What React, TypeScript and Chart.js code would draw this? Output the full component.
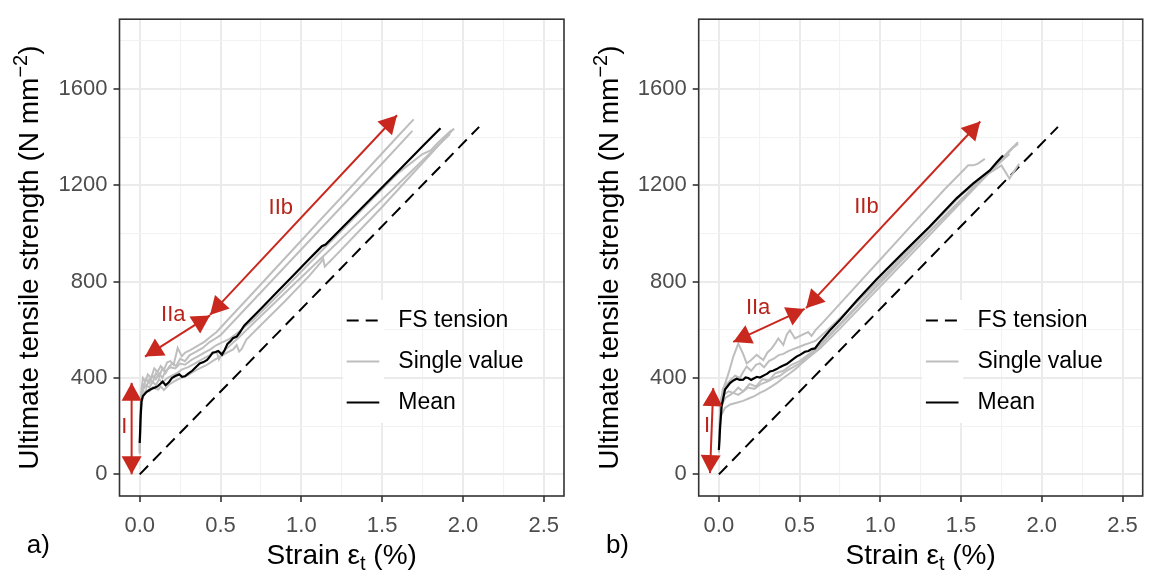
import React, { useEffect, useRef } from 'react';
import { Chart, registerables } from 'chart.js';
Chart.register(...registerables);

type Pt = [number, number];

// ---------- axes ----------
const X_MIN = -0.125;
const X_MAX = 2.625;
const Y_MIN = -90;
const Y_MAX = 1890;
const xMajorTicks = [0, 0.5, 1, 1.5, 2, 2.5];
const xMinorTicks = [0.25, 0.75, 1.25, 1.75, 2.25];
const yMajorTicks = [0, 400, 800, 1200, 1600];
const yMinorTicks = [200, 600, 1000, 1400, 1800];

const xTitleMain = 'Strain ε';
const xTitleSub = 't';
const xTitleEnd = ' (%)';
const yTitleMain = 'Ultimate tensile strength (N mm';
const yTitleSup = '−2';
const yTitleEnd = ')';

const legendLabels = ['FS tension', 'Single value', 'Mean'];
const arrowLabelText = ['I', 'IIa', 'IIb'];

// ---------- shared reference line ----------
const fsTension: Pt[] = [[0, 0], [2.1, 1443]];

// ---------- panel a) ----------
const aMean: Pt[] = [[0,130],[0.005,230],[0.011,303],[0.02,325],[0.039,340],[0.06,350],[0.085,358],[0.11,365],[0.142,385],[0.16,370],[0.18,382],[0.199,400],[0.22,408],[0.245,415],[0.262,405],[0.28,407],[0.3,418],[0.325,430],[0.35,447],[0.371,460],[0.395,466],[0.417,475],[0.435,490],[0.451,505],[0.47,508],[0.486,512],[0.509,497],[0.525,515],[0.543,542],[0.56,552],[0.577,565],[0.6,572],[0.62,590],[0.646,617],[0.75,688],[0.85,757],[0.95,826],[1.05,895],[1.1,929],[1.127,947],[1.15,954],[1.3,1056],[1.45,1158],[1.6,1260],[1.75,1362],[1.861,1437]];
const aSingle1: Pt[] = [[0,110],[0.005,260],[0.01,345],[0.02,400],[0.035,385],[0.05,415],[0.07,400],[0.09,440],[0.11,425],[0.13,450],[0.15,435],[0.17,465],[0.19,470],[0.21,455],[0.235,525],[0.26,490],[0.28,505],[0.31,515],[0.35,530],[0.4,550],[0.44,572],[0.476,591],[0.55,645],[0.7,753],[0.85,862],[1.0,971],[1.15,1080],[1.3,1188],[1.45,1297],[1.6,1406],[1.695,1474]];
const aSingle2: Pt[] = [[0,100],[0.005,240],[0.01,320],[0.02,375],[0.04,360],[0.06,395],[0.08,380],[0.1,420],[0.12,405],[0.14,440],[0.16,420],[0.18,445],[0.2,460],[0.225,450],[0.25,480],[0.28,470],[0.31,495],[0.35,510],[0.39,525],[0.43,548],[0.46,560],[0.5,578],[0.6,649],[0.75,756],[0.9,863],[1.05,970],[1.2,1077],[1.35,1184],[1.5,1291],[1.687,1426]];
const aSingle3: Pt[] = [[0,95],[0.005,220],[0.01,300],[0.02,350],[0.04,372],[0.06,360],[0.08,385],[0.1,370],[0.12,395],[0.14,380],[0.17,400],[0.2,410],[0.23,420],[0.26,435],[0.3,445],[0.34,460],[0.38,475],[0.42,490],[0.45,500],[0.476,510],[0.49,478],[0.51,505],[0.55,530],[0.58,548],[0.6,560],[0.7,625],[0.85,722],[1.0,818],[1.15,915],[1.3,1012],[1.45,1109],[1.6,1206],[1.75,1303],[1.92,1413]];
const aSingle4: Pt[] = [[0,85],[0.005,200],[0.01,280],[0.02,330],[0.04,350],[0.06,345],[0.08,362],[0.1,355],[0.115,352],[0.13,365],[0.15,350],[0.18,372],[0.21,385],[0.24,395],[0.27,405],[0.3,412],[0.33,425],[0.37,440],[0.41,452],[0.45,470],[0.476,480],[0.5,490],[0.54,505],[0.58,520],[0.6,537],[0.615,510],[0.63,520],[0.66,560],[0.75,620],[0.9,720],[1.05,825],[1.12,880],[1.135,895],[1.145,862],[1.17,880],[1.2,900],[1.35,1005],[1.5,1110],[1.65,1220],[1.8,1330],[1.9,1405],[1.945,1436]];
const aSingle5: Pt[] = [[0,92],[0.005,230],[0.01,310],[0.02,360],[0.04,395],[0.06,380],[0.08,410],[0.1,395],[0.12,420],[0.14,400],[0.16,430],[0.19,445],[0.22,440],[0.25,460],[0.28,455],[0.32,475],[0.36,490],[0.4,505],[0.44,520],[0.47,535],[0.5,545],[0.55,560],[0.6,585],[0.7,640],[0.85,740],[1.0,842],[1.15,945],[1.3,1047],[1.45,1150],[1.6,1252],[1.75,1330],[1.8,1345],[1.85,1380],[1.93,1430]];
const aArrowI: Pt[] = [[-0.05, 0], [-0.05, 380]];
const aArrowIIa: Pt[] = [[0.033, 489], [0.435, 660]];
const aArrowIIb: Pt[] = [[0.435, 662], [1.592, 1491]];
const aLabelPos: Pt[] = [[-0.095, 198], [0.208, 660], [0.873, 1108]];

// ---------- panel b) ----------
const bMean: Pt[] = [[0,101],[0.008,200],[0.017,283],[0.038,352],[0.069,379],[0.09,390],[0.11,397],[0.13,392],[0.151,393],[0.165,402],[0.182,400],[0.2,392],[0.213,397],[0.235,405],[0.254,402],[0.285,413],[0.3,418],[0.316,427],[0.335,430],[0.358,437],[0.38,446],[0.399,452],[0.42,458],[0.44,468],[0.46,478],[0.481,489],[0.505,497],[0.533,509],[0.555,512],[0.574,520],[0.595,523],[0.626,550],[0.688,598],[0.75,642],[0.853,721],[0.977,810],[1.141,920],[1.306,1029],[1.472,1146],[1.574,1207],[1.678,1262],[1.72,1295],[1.76,1324]];
const bSingle1: Pt[] = [[0,130],[0.01,300],[0.03,360],[0.06,420],[0.09,490],[0.12,543],[0.15,500],[0.172,461],[0.2,475],[0.234,496],[0.275,475],[0.3,505],[0.327,523],[0.35,545],[0.368,564],[0.399,537],[0.42,580],[0.44,598],[0.471,564],[0.512,578],[0.553,591],[0.574,575],[0.6,600],[0.646,632],[0.8,745],[1.0,892],[1.2,1039],[1.4,1185],[1.513,1262],[1.544,1283],[1.575,1283],[1.605,1290],[1.647,1310]];
const bSingle2: Pt[] = [[0,110],[0.01,290],[0.025,355],[0.045,372],[0.07,390],[0.1,410],[0.13,400],[0.15,425],[0.172,448],[0.2,430],[0.23,455],[0.254,461],[0.28,445],[0.31,470],[0.34,480],[0.37,495],[0.4,500],[0.43,512],[0.46,520],[0.5,530],[0.53,538],[0.56,545],[0.6,555],[0.65,585],[0.75,648],[0.9,745],[1.05,845],[1.2,950],[1.35,1055],[1.5,1160],[1.65,1240],[1.75,1310],[1.8,1345],[1.853,1379]];
const bSingle3: Pt[] = [[0,100],[0.01,270],[0.03,330],[0.06,345],[0.09,338],[0.12,360],[0.15,344],[0.19,375],[0.23,365],[0.27,395],[0.31,390],[0.35,420],[0.4,430],[0.45,455],[0.5,470],[0.55,495],[0.6,520],[0.7,590],[0.9,730],[1.1,870],[1.3,1005],[1.5,1140],[1.65,1240],[1.75,1283],[1.8,1228],[1.832,1262],[1.86,1290]];
const bSingle4: Pt[] = [[0,90],[0.01,240],[0.038,276],[0.07,290],[0.11,297],[0.15,305],[0.192,317],[0.22,325],[0.254,338],[0.29,350],[0.327,365],[0.36,380],[0.399,400],[0.44,420],[0.481,441],[0.52,465],[0.564,489],[0.626,523],[0.75,605],[0.95,745],[1.15,885],[1.35,1025],[1.55,1165],[1.7,1270],[1.78,1325],[1.82,1355],[1.853,1372]];
const bSingle5: Pt[] = [[0,105],[0.01,280],[0.04,317],[0.089,338],[0.12,330],[0.15,344],[0.18,360],[0.22,355],[0.26,375],[0.3,385],[0.34,400],[0.38,410],[0.42,430],[0.46,445],[0.5,460],[0.55,490],[0.6,515],[0.7,585],[0.9,725],[1.1,865],[1.3,1005],[1.5,1140],[1.7,1270],[1.8,1330]];
const bArrowI: Pt[] = [[-0.055, 5], [-0.035, 358]];
const bArrowIIa: Pt[] = [[0.089, 550], [0.531, 687]];
const bArrowIIb: Pt[] = [[0.54, 690], [1.619, 1465]];
const bLabelPos: Pt[] = [[-0.073, 199], [0.243, 690], [0.914, 1112]];

// ---------- styling ----------
const CANVAS_W = 577;
const CANVAS_H = 573;
const PLOT_TOP = 14;
const PLOT_BOTTOM = 496;
const FONT = "'Liberation Sans', Arial, Helvetica, sans-serif";
const RED = '#C8281E';
const GRAY = '#BEBEBE';
const DASH = [12, 7];

type PanelCfg = {
  left: number;
  plotLeft: number;
  plotRight: number;
  letter: string;
  mean: Pt[];
  singles: Pt[][];
  arrows: Pt[][];
  labels: Pt[];
};

const panels: PanelCfg[] = [
  { left: 0, plotLeft: 119.5, plotRight: 564, letter: 'a)', mean: aMean,
    singles: [aSingle1, aSingle2, aSingle3, aSingle4, aSingle5],
    arrows: [aArrowI, aArrowIIa, aArrowIIb], labels: aLabelPos },
  { left: 577, plotLeft: 121.7, plotRight: 565.7, letter: 'b)', mean: bMean,
    singles: [bSingle1, bSingle2, bSingle3, bSingle4, bSingle5],
    arrows: [bArrowI, bArrowIIa, bArrowIIb], labels: bLabelPos },
];

const toXY = (pts: Pt[]) => pts.map(([x, y]) => ({ x, y }));

function arrowHead(ctx: CanvasRenderingContext2D, tx: number, ty: number, fx: number, fy: number) {
  const ang = Math.atan2(ty - fy, tx - fx);
  const L = 18, hw = 10;
  const bx = tx - L * Math.cos(ang), by = ty - L * Math.sin(ang);
  const px = -Math.sin(ang) * hw, py = Math.cos(ang) * hw;
  ctx.beginPath();
  ctx.moveTo(tx, ty);
  ctx.lineTo(bx + px, by + py);
  ctx.lineTo(bx - px, by - py);
  ctx.closePath();
  ctx.fill();
}

function Panel({ cfg }: { cfg: PanelCfg }) {
  const ref = useRef<HTMLCanvasElement>(null);
  useEffect(() => {
    if (!ref.current) return;
    const shift = cfg.plotLeft - 119.5;
    const decor = {
      id: 'decor',
      afterDraw(chart: any) {
        const ctx: CanvasRenderingContext2D = chart.ctx;
        const a = chart.chartArea;
        const xs = chart.scales.x, ys = chart.scales.y;
        ctx.save();
        // panel border
        ctx.strokeStyle = '#333333';
        ctx.lineWidth = 1.6;
        ctx.strokeRect(a.left, a.top, a.right - a.left, a.bottom - a.top);

        // arrows
        ctx.strokeStyle = RED;
        ctx.fillStyle = RED;
        ctx.lineWidth = 2;
        cfg.arrows.forEach((arr) => {
          const x1 = xs.getPixelForValue(arr[0][0]), y1 = ys.getPixelForValue(arr[0][1]);
          const x2 = xs.getPixelForValue(arr[1][0]), y2 = ys.getPixelForValue(arr[1][1]);
          ctx.beginPath();
          ctx.moveTo(x1, y1);
          ctx.lineTo(x2, y2);
          ctx.stroke();
          arrowHead(ctx, x1, y1, x2, y2);
          arrowHead(ctx, x2, y2, x1, y1);
        });
        ctx.font = `22px ${FONT}`;
        ctx.textAlign = 'center';
        ctx.textBaseline = 'middle';
        ctx.fillStyle = '#B8241B';
        cfg.labels.forEach((p, i) => {
          ctx.fillText(arrowLabelText[i], xs.getPixelForValue(p[0]), ys.getPixelForValue(p[1]));
        });

        // legend
        const kx = a.left + 223.5;
        const rowTop = 300;
        const rowH = 41;
        ctx.fillStyle = '#FFFFFF';
        ctx.fillRect(kx, rowTop, 41, rowH * 3);
        legendLabels.forEach((lab, i) => {
          const cy = rowTop + rowH * i + rowH / 2;
          ctx.beginPath();
          ctx.moveTo(kx + 3.7, cy);
          ctx.lineTo(kx + 36.3, cy);
          ctx.lineWidth = 2;
          if (i === 0) { ctx.setLineDash(DASH); ctx.strokeStyle = '#000000'; }
          else if (i === 1) { ctx.setLineDash([]); ctx.strokeStyle = GRAY; }
          else { ctx.setLineDash([]); ctx.strokeStyle = '#000000'; }
          ctx.stroke();
          ctx.setLineDash([]);
          ctx.fillStyle = '#000000';
          ctx.font = `23px ${FONT}`;
          ctx.textAlign = 'left';
          ctx.textBaseline = 'middle';
          ctx.fillText(lab, a.left + 278.8, cy);
        });

        // x title
        ctx.fillStyle = '#000000';
        ctx.textAlign = 'left';
        ctx.textBaseline = 'alphabetic';
        const big = `28px ${FONT}`, small = `20px ${FONT}`;
        ctx.font = big;
        const w1 = ctx.measureText(xTitleMain).width;
        const w3 = ctx.measureText(xTitleEnd).width;
        ctx.font = small;
        const w2 = ctx.measureText(xTitleSub).width;
        let x0 = (a.left + a.right) / 2 - (w1 + w2 + w3) / 2;
        const by = 564;
        ctx.font = big; ctx.fillText(xTitleMain, x0, by); x0 += w1;
        ctx.font = small; ctx.fillText(xTitleSub, x0, by + 6); x0 += w2;
        ctx.font = big; ctx.fillText(xTitleEnd, x0, by);

        // y title
        ctx.save();
        ctx.translate(38.3 + shift, (a.top + a.bottom) / 2);
        ctx.rotate(-Math.PI / 2);
        ctx.font = big;
        const v1 = ctx.measureText(yTitleMain).width;
        const v3 = ctx.measureText(yTitleEnd).width;
        ctx.font = small;
        const v2 = ctx.measureText(yTitleSup).width;
        let t0 = -(v1 + v2 + v3) / 2;
        ctx.font = big; ctx.fillText(yTitleMain, t0, 0); t0 += v1;
        ctx.font = small; ctx.fillText(yTitleSup, t0, -11); t0 += v2;
        ctx.font = big; ctx.fillText(yTitleEnd, t0, 0);
        ctx.restore();

        // panel letter
        ctx.font = `26px ${FONT}`;
        ctx.fillStyle = '#000000';
        ctx.textAlign = 'left';
        ctx.fillText(cfg.letter, 26.7 + shift, 553);
        ctx.restore();
      },
    };

    const isMajorX = (v: number) => xMajorTicks.some((m) => Math.abs(m - v) < 1e-9);
    const isMajorY = (v: number) => yMajorTicks.some((m) => Math.abs(m - v) < 1e-9);

    const datasets: any[] = [
      { data: toXY(cfg.mean), borderColor: '#000000', borderWidth: 2.2, pointRadius: 0, fill: false, tension: 0 },
      ...cfg.singles.map((s) => ({ data: toXY(s), borderColor: GRAY, borderWidth: 2, pointRadius: 0, fill: false, tension: 0 })),
      { data: toXY(fsTension), borderColor: '#000000', borderWidth: 2, borderDash: DASH, pointRadius: 0, fill: false, tension: 0 },
    ];

    const chart = new Chart(ref.current, {
      type: 'line',
      data: { datasets },
      options: {
        animation: false,
        responsive: false,
        maintainAspectRatio: false,
        events: [],
        layout: { padding: { left: 0, right: CANVAS_W - cfg.plotRight, top: PLOT_TOP, bottom: 0 } },
        plugins: { legend: { display: false }, tooltip: { enabled: false }, title: { display: false } },
        scales: {
          x: {
            type: 'linear',
            min: X_MIN,
            max: X_MAX,
            afterBuildTicks: (s: any) => { s.ticks = [...xMajorTicks, ...xMinorTicks].sort((p, q) => p - q).map((v) => ({ value: v })); },
            afterFit: (s: any) => { s.height = CANVAS_H - PLOT_BOTTOM; },
            border: { display: false },
            grid: {
              color: (c: any) => (isMajorX(c.tick.value) ? '#EBEBEB' : '#F2F2F2'),
              lineWidth: (c: any) => (isMajorX(c.tick.value) ? 2 : 1.1),
              tickColor: (c: any) => (isMajorX(c.tick.value) ? '#333333' : 'rgba(0,0,0,0)'),
              tickWidth: (c: any) => (isMajorX(c.tick.value) ? 1.6 : 0),
              tickLength: 6,
              drawTicks: true,
            },
            ticks: {
              autoSkip: false,
              maxRotation: 0,
              padding: 11,
              color: '#4D4D4D',
              font: { family: FONT, size: 22 },
              callback: (v: any) => (isMajorX(Number(v)) ? Number(v).toFixed(1) : ''),
            },
          },
          y: {
            type: 'linear',
            min: Y_MIN,
            max: Y_MAX,
            afterBuildTicks: (s: any) => { s.ticks = [...yMajorTicks, ...yMinorTicks].sort((p, q) => p - q).map((v) => ({ value: v })); },
            afterFit: (s: any) => { s.width = cfg.plotLeft; },
            border: { display: false },
            grid: {
              color: (c: any) => (isMajorY(c.tick.value) ? '#EBEBEB' : '#F2F2F2'),
              lineWidth: (c: any) => (isMajorY(c.tick.value) ? 2 : 1.1),
              tickColor: (c: any) => (isMajorY(c.tick.value) ? '#333333' : 'rgba(0,0,0,0)'),
              tickWidth: (c: any) => (isMajorY(c.tick.value) ? 1.6 : 0),
              tickLength: 6,
              drawTicks: true,
            },
            ticks: {
              autoSkip: false,
              padding: 6,
              color: '#4D4D4D',
              font: { family: FONT, size: 22 },
              callback: (v: any) => (isMajorY(Number(v)) ? String(v) : ''),
            },
          },
        },
      } as any,
      plugins: [decor],
    });
    return () => chart.destroy();
  }, [cfg]);

  return (
    <canvas
      ref={ref}
      width={CANVAS_W}
      height={CANVAS_H}
      style={{ position: 'absolute', left: cfg.left, top: 0, width: CANVAS_W, height: CANVAS_H }}
    />
  );
}

export default function App() {
  return (
    <div style={{ position: 'absolute', left: 0, top: 0, width: 1154, height: 573, background: '#FFFFFF', overflow: 'hidden' }}>
      {panels.map((p, i) => (
        <Panel key={i} cfg={p} />
      ))}
    </div>
  );
}
